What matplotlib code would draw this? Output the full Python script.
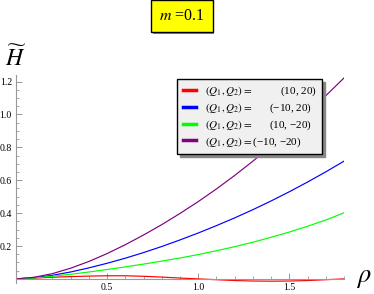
import numpy as np
import matplotlib
matplotlib.use("Agg")
import matplotlib.pyplot as plt
from matplotlib.ticker import MultipleLocator
import matplotlib.patheffects as pe

plt.rcParams['font.family'] = ['Liberation Serif', 'DejaVu Serif']
plt.rcParams['mathtext.fontset'] = 'stix'

# valores
rho = [0.0, 0.1, 0.2, 0.3, 0.4, 0.5, 0.6, 0.7, 0.8, 0.9,
       1.0, 1.1, 1.2, 1.3, 1.4, 1.5, 1.6, 1.7, 1.8]
H_10_20 = [0.0, 0.005, 0.010, 0.014, 0.017, 0.019, 0.019, 0.016, 0.011, 0.005,
           0.0, -0.005, -0.010, -0.013, -0.014, -0.013, -0.010, -0.005, 0.0]
H_m10_20 = [0.0, 0.007, 0.022, 0.042, 0.067, 0.095, 0.126, 0.160, 0.197, 0.237,
            0.279, 0.324, 0.371, 0.421, 0.474, 0.530, 0.589, 0.651, 0.716]
H_10_m20 = [0.0, 0.006, 0.016, 0.028, 0.042, 0.057, 0.073, 0.090, 0.108, 0.127,
            0.148, 0.171, 0.196, 0.223, 0.253, 0.285, 0.320, 0.358, 0.402]
H_m10_m20 = [0.0, 0.010, 0.032, 0.065, 0.106, 0.154, 0.208, 0.267, 0.330, 0.398,
             0.470, 0.547, 0.629, 0.716, 0.808, 0.905, 1.007, 1.114, 1.222]

series = [H_10_20, H_m10_20, H_10_m20, H_m10_m20]
cores = ['#ff0000', '#0000ff', '#00ff00', '#800080']
valores = ['(10, 20)', '(\u221210, 20)', '(10, \u221220)', '(\u221210, \u221220)']
# espaçamento para alinhar os valores à direita
espaco = ['\u2007\u2007\u2007\u2007\u2007', '\u2007\u2007\u2007', '\u2007\u2007\u2007', '']

fig = plt.figure(figsize=(3.74, 2.94), dpi=100)
ax = fig.add_axes([16/374, 1-283/294, 328/374, 208/294])

for y, c, v, e in zip(series, cores, valores, espaco):
    ax.plot(rho, y, color=c, lw=0.85, label=r'$(Q_1,Q_2) =$' + e + v)

ax.set_xlim(0, 1.8)
ax.set_ylim(-0.025, 1.24)
ax.spines['top'].set_visible(False)
ax.spines['right'].set_visible(False)
ax.spines['bottom'].set_position(('data', 0))
for s in ['left', 'bottom']:
    ax.spines[s].set_color('#999999')
    ax.spines[s].set_linewidth(0.8)
ax.xaxis.set_major_locator(MultipleLocator(0.5))
ax.xaxis.set_minor_locator(MultipleLocator(0.1))
ax.yaxis.set_major_locator(MultipleLocator(0.2))
ax.yaxis.set_minor_locator(MultipleLocator(0.05))
ax.tick_params(which='both', direction='in', color='#999999', labelsize=7, pad=3)
ax.tick_params(which='major', length=4, width=0.7)
ax.tick_params(which='minor', length=2, width=0.6)
ax.set_xticks([0.5, 1.0, 1.5])
ax.set_xticklabels(['0.5', '1.0', '1.5'])
ax.set_yticks([0.2, 0.4, 0.6, 0.8, 1.0, 1.2])
ax.set_yticklabels(['0.2', '0.4', '0.6', '0.8', '1.0', '1.2'])

leg = ax.legend(loc='upper left', bbox_to_anchor=(177/374, 1-79/294),
                bbox_transform=fig.transFigure, fontsize=8, frameon=True,
                fancybox=False, edgecolor='black', facecolor='#f0f0f0',
                framealpha=1, handlelength=1.2, handletextpad=0.8,
                labelspacing=0.3, borderpad=0.5, borderaxespad=0,
                shadow={'color': '#888888', 'alpha': 1})
leg.get_frame().set_linewidth(1.0)
for h in leg.legend_handles:
    h.set_linewidth(2.5)

ax.annotate(r'$\rho$', xy=(1.0, 0), xycoords=('axes fraction', 'data'),
            xytext=(9, 0), textcoords='offset points', fontsize=19,
            ha='left', va='center')
ax.text(0, 1.02, r'$\widetilde{H}$', transform=ax.transAxes, fontsize=17,
        ha='center', va='bottom')

t = fig.text(182/374, 1-16/294, r'$m\ $=0.1', ha='center', va='center', fontsize=11.5,
             bbox=dict(boxstyle='square,pad=0.5', facecolor='#ffff00',
                       edgecolor='black', linewidth=1.0))
t.get_bbox_patch().set_path_effects([pe.SimplePatchShadow(offset=(1.2, -1.2), shadow_rgbFace='#888888', alpha=1), pe.Normal()])

fig.savefig('out.png', dpi=100)
